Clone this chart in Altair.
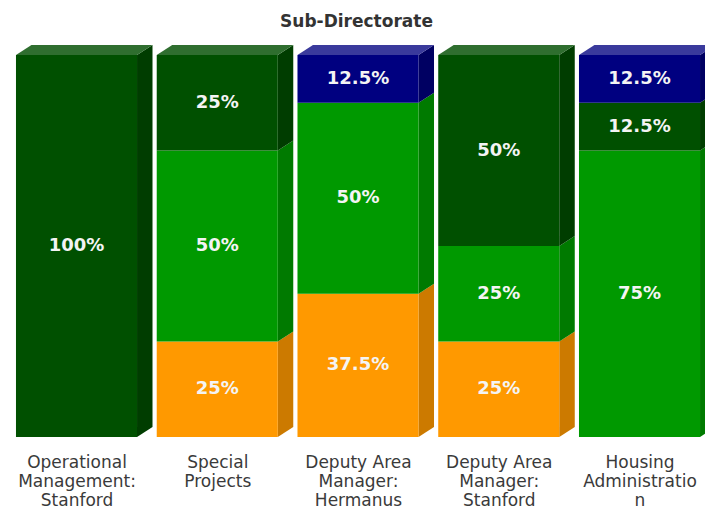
import json
import altair as alt
import pandas as pd

# ---------------- data ----------------
categories = [
    "Operational Management: Stanford",
    "Special Projects",
    "Deputy Area Manager: Hermanus",
    "Deputy Area Manager: Stanford",
    "Housing Administration",
]
tick_labels = [
    ["Operational", "Management:", "Stanford"],
    ["Special", "Projects"],
    ["Deputy Area", "Manager:", "Hermanus"],
    ["Deputy Area", "Manager:", "Stanford"],
    ["Housing", "Administratio", "n"],
]
series_names = ["Series 1", "Series 2", "Series 3", "Series 4"]  # bottom -> top
series_1 = [0, 25, 37.5, 25, 0]      # orange
series_2 = [0, 50, 50, 25, 75]       # green
series_3 = [100, 25, 0, 50, 12.5]    # dark green
series_4 = [0, 0, 12.5, 0, 12.5]     # navy
title_text = "Sub-Directorate"

# ---------------- styles ----------------
front_colors = ["#ff9900", "#009900", "#005000", "#000080"]
side_colors = ["#cc7a00", "#007a00", "#003d00", "#000062"]
top_colors = ["#ffad33", "#33ad33", "#2f6e2f", "#3a3a9c"]
HALF = 0.43      # half width of bar front (x units)
DX = 0.11        # depth in x units
DY = 2.62        # depth in y units (%)
PLOT_W = 697
X_DOMAIN = [-0.4867, -0.4867 + PLOT_W / 140.75]
Y_MAX = 103.93
FONT = "DejaVu Sans"

values = [series_1, series_2, series_3, series_4]

front_rows, side_rows, top_rows = [], [], []
for i, cat in enumerate(categories):
    base = 0.0
    top_series = None
    for s, name in enumerate(series_names):
        v = values[s][i]
        if v <= 0:
            continue
        y0, y1 = base, base + v
        base = y1
        top_series = (name, y1)
        front_rows.append(dict(category=cat, i=i, series=name, xl=i - HALF, xr=i + HALF,
                               y0=y0, y1=y1, ym=(y0 + y1) / 2, label=f"{v:g}%"))
        key = f"{i}-{s}"
        side_rows.append(dict(key=key, series=name, x=i + HALF, lo=y0, hi=y1))
        side_rows.append(dict(key=key, series=name, x=i + HALF + DX, lo=y0 + DY, hi=y1 + DY))
    name, ytop = top_series
    top_rows.append(dict(key=str(i), series=name, y=ytop, xl=i - HALF, xr=i + HALF))
    top_rows.append(dict(key=str(i), series=name, y=ytop + DY, xl=i - HALF + DX, xr=i + HALF + DX))

front_df = pd.DataFrame(front_rows)
side_df = pd.DataFrame(side_rows)
top_df = pd.DataFrame(top_rows)

xscale = alt.Scale(domain=X_DOMAIN, nice=False, zero=False)
yscale = alt.Scale(domain=[0, Y_MAX], nice=False, zero=False)

label_expr = json.dumps(tick_labels) + "[round(datum.value)]"
xaxis = alt.Axis(values=list(range(len(categories))), labelExpr=label_expr,
                 title=None, domain=False, ticks=False, grid=False,
                 labelFont=FONT, labelFontSize=17, labelColor="#3a3a3a",
                 labelLineHeight=19, labelPadding=17, labelFlush=False,
                 labelOverlap=False, labelBound=False, labelAlign="center")

side = alt.Chart(side_df).mark_area(orient="vertical").encode(
    x=alt.X("x:Q", scale=xscale, axis=xaxis),
    y=alt.Y("lo:Q", scale=yscale, axis=None),
    y2="hi:Q",
    detail="key:N",
    color=alt.Color("series:N", scale=alt.Scale(domain=series_names, range=side_colors), legend=None),
)

top = alt.Chart(top_df).mark_area(orient="horizontal").encode(
    y=alt.Y("y:Q", scale=yscale, axis=None),
    x=alt.X("xl:Q", scale=xscale, axis=xaxis),
    x2="xr:Q",
    detail="key:N",
    color=alt.Color("series:N", scale=alt.Scale(domain=series_names, range=top_colors), legend=None),
)

front = alt.Chart(front_df).mark_rect().encode(
    x=alt.X("xl:Q", scale=xscale, axis=xaxis),
    x2="xr:Q",
    y=alt.Y("y0:Q", scale=yscale, axis=None),
    y2="y1:Q",
    color=alt.Color("series:N", scale=alt.Scale(domain=series_names, range=front_colors), legend=None),
    tooltip=["category:N", "series:N", "label:N"],
)

text = alt.Chart(front_df).mark_text(font=FONT, fontSize=18, fontWeight="bold", color="#f4f4f4").encode(
    x=alt.X("i:Q", scale=xscale, axis=xaxis),
    y=alt.Y("ym:Q", scale=yscale, axis=None),
    text="label:N",
)

chart = alt.layer(side, top, front, text).resolve_scale(
    color="independent"
).properties(
    width=PLOT_W,
    height=397,
    autosize=alt.AutoSizeParams(type="none"),
    padding={"left": 0, "right": 0, "top": 32, "bottom": 71},
    title=alt.TitleParams(title_text, font=FONT, fontSize=17, fontWeight="bold",
                          color="#333333", anchor="middle", offset=9),
).configure_view(stroke=None)

chart.save("out.html", embed_options={"renderer": "svg", "actions": False})
